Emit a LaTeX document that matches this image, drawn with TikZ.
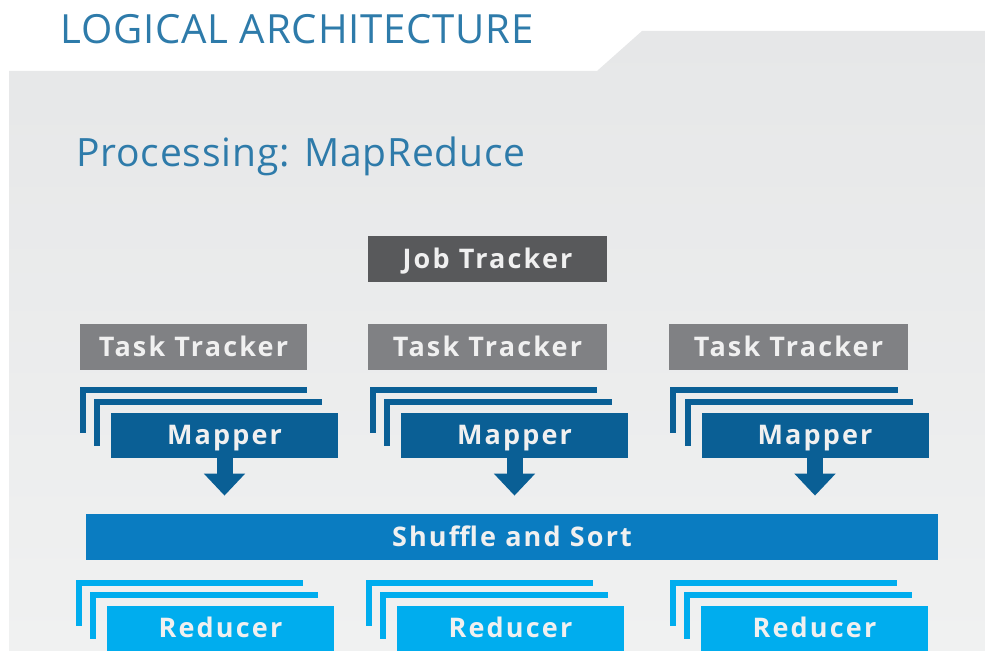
\documentclass[tikz,border=0pt]{standalone}
\usepackage{fontspec}
\setmainfont{Open Sans}
\newfontfamily\boxfont[LetterSpace=8]{Open Sans}
\newfontfamily\headfont[LetterSpace=2]{Open Sans}
\usepackage{tikz}
\usetikzlibrary{positioning,arrows.meta,calc,backgrounds}
\definecolor{cTitle}{HTML}{2E7BAA}
\definecolor{cPanel}{HTML}{E6E7E8}
\definecolor{cPanelLow}{HTML}{F0F1F1}
\definecolor{cJob}{HTML}{58595B}
\definecolor{cTask}{HTML}{808184}
\definecolor{cMap}{HTML}{0A5F95}
\definecolor{cShuf}{HTML}{0A7CC1}
\definecolor{cRed}{HTML}{00ADEE}

\begin{document}
\begin{tikzpicture}[x=0.5pt, y=-0.5pt,
  font=\boxfont\bfseries\fontsize{13.5}{15}\selectfont,
  blk/.style={inner sep=0pt, minimum width=113.5pt, minimum height=23pt,
              text=white!94!black, align=center, text depth=1pt},
  job/.style={blk, fill=cJob, minimum width=119.5pt},
  task/.style={blk, fill=cTask},
  mapbox/.style={blk, fill=cMap, minimum height=22.5pt},
  redbox/.style={blk, fill=cRed, minimum height=22.5pt},
  shuf/.style={blk, fill=cShuf, minimum width=426pt},
  layer/.style={line width=3pt},
  fat/.style={line width=8pt, draw=cMap, -{Triangle[length=11pt,width=20pt]},
              shorten >=9pt},
  hdr/.style={font=\headfont\fontsize{20.1}{22}\selectfont, text=cTitle,
              anchor=base west, inner sep=0pt},
]
  \clip (0,0) rectangle (985,651);
  % panel
  \shade[top color=cPanel, bottom color=cPanelLow]
    (9,651) -- (9,71) -- (597,71) -- (642,31) -- (985,31) -- (985,651) -- cycle;
  % headings
  \node[hdr] (title) at (60,44) {LOGICAL ARCHITECTURE};
  \node[hdr, font=\headfont\fontsize{19.5}{21}\selectfont] (sub) at (76,167) {Processing: MapReduce};
  % trackers
  \node[job] (job) at (487.5,259) {Job Tracker};
  \node[task] (t1) at (193.5,347.5) {Task Tracker};
  \node[task, minimum width=119.5pt] (t2) at (487.5,347.5) {Task Tracker};
  \node[task, minimum width=119.5pt] (t3) at (788.5,347.5) {Task Tracker};
  % mappers
  \node[mapbox] (m1) at (224.5,435.5) {Mapper};
  \node[mapbox] (m2) at (514.5,435.5) {Mapper};
  \node[mapbox] (m3) at (815,435.5)   {Mapper};
  % shuffle
  \node[shuf] (sh) at (512,537) {Shuffle and Sort};
  % reducers
  \node[redbox] (r1) at (220.5,628.5) {Reducer};
  \node[redbox] (r2) at (510.5,628.5) {Reducer};
  \node[redbox] (r3) at (814.5,628.5) {Reducer};
  % stacked copies behind
  \foreach \n/\c in {m1/cMap,m2/cMap,m3/cMap,r1/cRed,r2/cRed,r3/cRed} {
    \draw[layer, draw=\c] ($(\n.north west)+(-28,20)$) |- ($(\n.north east)+(-31,-22.5)$);
    \draw[layer, draw=\c] ($(\n.north west)+(-13.5,33)$) |- ($(\n.north east)+(-16,-10.5)$);
  }
  % map output into shuffle
  \foreach \i in {1,2,3} { \draw[fat] (m\i.south) -- (m\i.south |- sh.north); }
\end{tikzpicture}
\end{document}
